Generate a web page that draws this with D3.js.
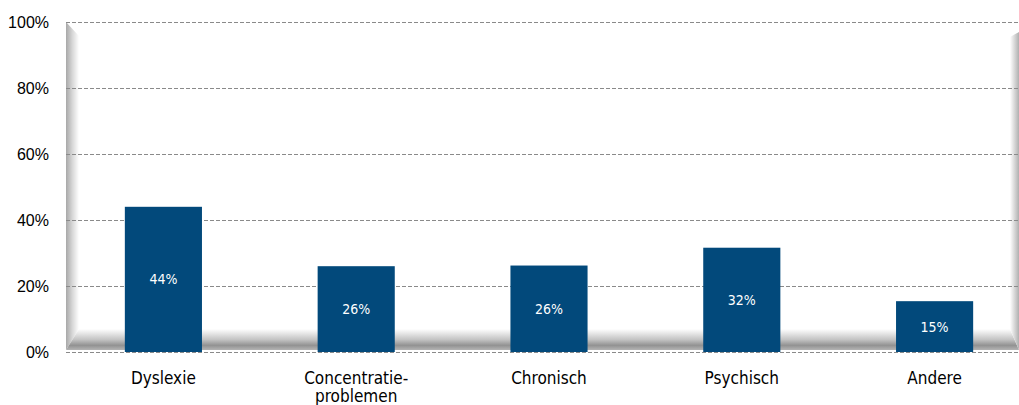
<!DOCTYPE html>
<html><head><meta charset="utf-8">
<script src="https://cdn.jsdelivr.net/npm/d3@7"></script>
<style>body{margin:0;background:#fff;}svg{display:block;}</style>
</head><body>
<script>
const categories = [["Dyslexie"], ["Concentratie-", "problemen"], ["Chronisch"], ["Psychisch"], ["Andere"]];
const values = [44, 26, 26.2, 31.6, 15.4];
const valueLabels = ["44%", "26%", "26%", "32%", "15%"];
const yTicks = [0, 20, 40, 60, 80, 100];

(function() {
const W = 1019, H = 405;
const svg = d3.select("body").append("svg").attr("width", W).attr("height", H);
const pLeft = 66, pTop = 22, pBottom = 352, rightEdge = 1019;
const x = d3.scaleBand().domain(d3.range(categories.length)).range([67, 1031]).paddingInner(0.6).paddingOuter(0.3);
const y = d3.scaleLinear().domain([0, 100]).range([pBottom, pTop]);

const defs = svg.append("defs");
const lg = defs.append("linearGradient").attr("id", "lw").attr("x1", 0).attr("x2", 1).attr("y1", 0).attr("y2", 0);
lg.append("stop").attr("offset", 0).attr("stop-color", "#a8a8a8");
lg.append("stop").attr("offset", 0.5).attr("stop-color", "#d8d8d8");
lg.append("stop").attr("offset", 1).attr("stop-color", "#ffffff");
const fg = defs.append("linearGradient").attr("id", "fl").attr("x1", 0).attr("x2", 0).attr("y1", 0).attr("y2", 1);
fg.append("stop").attr("offset", 0).attr("stop-color", "#ffffff");
fg.append("stop").attr("offset", 0.5).attr("stop-color", "#c4c4c4");
fg.append("stop").attr("offset", 0.78).attr("stop-color", "#929292");
fg.append("stop").attr("offset", 1).attr("stop-color", "#b4b4b4");
const rg = defs.append("linearGradient").attr("id", "rw").attr("x1", 0).attr("x2", 1).attr("y1", 0).attr("y2", 0);
rg.append("stop").attr("offset", 0).attr("stop-color", "#ffffff");
rg.append("stop").attr("offset", 1).attr("stop-color", "#b0b0b0");

// 3D walls
svg.append("polygon").attr("points", `${pLeft},${pTop} ${pLeft+13},${pTop+14} ${pLeft+13},${pBottom-23} ${pLeft},${pBottom-2}`).attr("fill", "url(#lw)");
svg.append("polygon").attr("points", `${pLeft+13},${pBottom-23} ${rightEdge-9},${pBottom-23} ${rightEdge},${pBottom-2} ${pLeft},${pBottom-2}`).attr("fill", "url(#fl)");
svg.append("polygon").attr("points", `${rightEdge-9},${pTop+15} ${rightEdge},${pTop+10} ${rightEdge},${pBottom-2} ${rightEdge-9},${pBottom-23}`).attr("fill", "url(#rw)");

// gridlines
svg.append("g").selectAll("line").data(yTicks).join("line")
  .attr("x1", pLeft).attr("x2", rightEdge)
  .attr("y1", d => Math.round(y(d)) + 0.5).attr("y2", d => Math.round(y(d)) + 0.5)
  .attr("stroke", "#8a8a8a").attr("stroke-dasharray", "4,2").attr("stroke-width", 1);

// y axis labels
const yAxis = d3.axisLeft(y).tickValues(yTicks).tickFormat(d => d + "%").tickSize(0).tickPadding(0);
const ga = svg.append("g").attr("transform", `translate(49,0)`).call(yAxis);
ga.select(".domain").remove();
ga.selectAll("text").attr("font-family", "Liberation Sans, Arial, sans-serif").attr("font-size", 16).attr("fill", "#000");

// bars
svg.append("g").selectAll("rect").data(values).join("rect")
  .attr("x", (d, i) => x(i)).attr("width", x.bandwidth())
  .attr("y", d => y(d)).attr("height", d => y(0) - y(d))
  .attr("fill", "#02497b");

// value labels
svg.append("g").selectAll("text").data(values).join("text")
  .attr("x", (d, i) => x(i) + x.bandwidth() / 2)
  .attr("y", d => (y(d) + y(0)) / 2 + 5)
  .attr("text-anchor", "middle").attr("fill", "#fff")
  .attr("font-family", "DejaVu Sans Condensed, DejaVu Sans, sans-serif").attr("font-size", 14)
  .text((d, i) => valueLabels[i]);

// category labels
const cg = svg.append("g").selectAll("text").data(categories).join("text")
  .attr("x", (d, i) => x(i) + x.bandwidth() / 2)
  .attr("y", 384).attr("text-anchor", "middle").attr("fill", "#000")
  .attr("font-family", "DejaVu Sans Condensed, DejaVu Sans, sans-serif").attr("font-size", 17);
cg.each(function(d) {
  const t = d3.select(this);
  d.forEach((line, j) => t.append("tspan").attr("x", t.attr("x")).attr("dy", j === 0 ? 0 : 18).text(line));
});
})();
</script>
</body></html>
